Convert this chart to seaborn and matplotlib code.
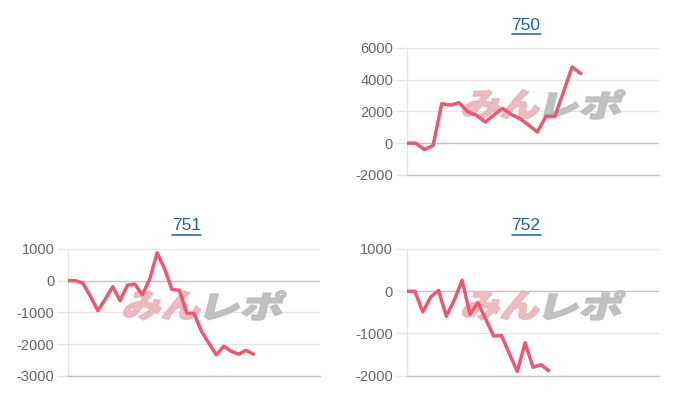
import numpy as np
import pandas as pd
import matplotlib
matplotlib.use("Agg")
import matplotlib.pyplot as plt
import seaborn as sns
from matplotlib.textpath import TextPath
from matplotlib.patches import PathPatch
from matplotlib.font_manager import FontProperties
from matplotlib.transforms import Affine2D
from matplotlib.lines import Line2D

# ---- data ----
titles = ["750", "751", "752"]
values_750 = [0, 0, -400, -150, 2480, 2390, 2540, 1980, 1750, 1330, 1770,
              2190, 1810, 1540, 1140, 700, 1700, 1670, 3200, 4790, 4375]
values_751 = [0, 0, -85, -500, -950, -580, -190, -630, -140, -110, -450,
              50, 880, 380, -280, -300, -1020, -1040, -1600, -1980, -2340,
              -2070, -2230, -2320, -2200, -2320]
values_752 = [0, 0, -490, -140, 20, -590, -210, 260, -545, -270, -660,
              -1060, -1050, -1480, -1900, -1220, -1800, -1740, -1880]
slots_750 = 30
slots_751 = 35
slots_752 = 33
yticks_750 = [-2000, 0, 2000, 4000, 6000]
yticks_751 = [-3000, -2000, -1000, 0, 1000]
yticks_752 = [-2000, -1000, 0, 1000]

sns.set_theme(style="white")
plt.rcParams['font.family'] = ['Liberation Sans', 'DejaVu Sans']

W, H = 700, 400
fig = plt.figure(figsize=(7, 4), dpi=100)
fig.patch.set_facecolor("white")

LINE_COLOR = "#ea5871"
GRID = "#e6e6e6"
ZERO = "#c2c2c2"
TICKC = "#666666"
TITLE_C = "#1f5e9c"

def px_axes(l, r, t, b):
    return [l / W, 1 - b / H, (r - l) / W, (b - t) / H]

panels = [
    (titles[0], values_750, slots_750, yticks_750, px_axes(407, 659, 47.7, 175), (526, 25)),
    (titles[1], values_751, slots_751, yticks_751, px_axes(68.3, 320, 249, 375.7), (186.7, 225.5)),
    (titles[2], values_752, slots_752, yticks_752, px_axes(407, 659, 249, 375.7), (526, 225.5)),
]

fp_wm = FontProperties(family='Noto Sans CJK JP', weight='black')

def add_watermark(ax):
    cx, cy = ax.transAxes.transform((0.537, 0.555))
    parts = [("みん", "#ebb5ba", -40), ("レポ", "#bcbcbc", 42)]
    for txt, col, dx in parts:
        tp = TextPath((0, 0), txt, size=1, prop=fp_wm)
        ext = tp.get_extents()
        sx = 76 / ext.width
        sy = 29 / ext.height
        tr = (Affine2D()
              .translate(-ext.x0 - ext.width / 2, -ext.y0 - ext.height / 2)
              .scale(sx, sy)
              .skew_deg(14, 0)
              .translate(cx + dx, cy))
        patch = PathPatch(tp, facecolor=col, edgecolor=col, linewidth=1.2,
                          alpha=0.9, transform=tr, zorder=1.5)
        ax.add_patch(patch)

for title, vals, slots, yt, pos, tpos in panels:
    ax = fig.add_axes(pos)
    df = pd.DataFrame({"x": np.arange(len(vals)), "y": vals})
    sns.lineplot(data=df, x="x", y="y", ax=ax, color=LINE_COLOR,
                 linewidth=2.5, zorder=3)
    ax.lines[-1].set_solid_joinstyle("round")
    ax.set_xlim(0, slots - 1)
    ax.set_ylim(yt[0], yt[-1])
    ax.set_yticks(yt)
    ax.set_yticklabels([str(v) for v in yt])
    ax.set_xticks([])
    ax.set_xlabel("")
    ax.set_ylabel("")
    ax.set_facecolor("white")
    ax.grid(False)
    for v in yt:
        ax.axhline(v, color=(ZERO if v == 0 else GRID), linewidth=1.0, zorder=0.5)
    for s in ["top", "right"]:
        ax.spines[s].set_visible(False)
    ax.spines["left"].set_color(GRID)
    ax.spines["left"].set_linewidth(1.0)
    ax.spines["bottom"].set_color(ZERO)
    ax.spines["bottom"].set_linewidth(1.0)
    ax.tick_params(axis="y", length=8, width=1.0, color=GRID, pad=2,
                   labelsize=10.5, labelcolor=TICKC, left=True)
    add_watermark(ax)
    fig.text(tpos[0] / W, 1 - tpos[1] / H, title, ha="center", va="center",
             fontsize=12.5, color=TITLE_C)

fig.canvas.draw()
renderer = fig.canvas.get_renderer()
for t in list(fig.texts):
    bb = t.get_window_extent(renderer)
    yline = bb.y0 - 1.5
    fig.add_artist(Line2D([bb.x0 / W, bb.x1 / W], [yline / H, yline / H],
                          transform=fig.transFigure, color=TITLE_C, linewidth=1.1))

fig.savefig("out.png", dpi=100, facecolor="white")
